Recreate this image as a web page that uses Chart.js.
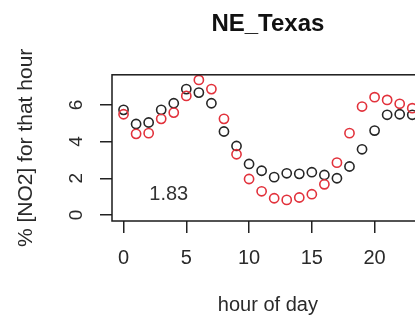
<!DOCTYPE html>
<html>
<head>
<meta charset="utf-8">
<script src="https://cdn.jsdelivr.net/npm/chart.js@4"></script>
<style>
  html, body { margin: 0; padding: 0; background: #fff; overflow: hidden; }
</style>
</head>
<body>
<canvas id="no2Chart" width="430" height="320"></canvas>
<script>
// hour of day, 0..23
const hours = [0, 1, 2, 3, 4, 5, 6, 7, 8, 9, 10, 11, 12, 13, 14, 15, 16, 17, 18, 19, 20, 21, 22, 23];
// black circles
const blackSeries = [5.73, 4.96, 5.04, 5.73, 6.09, 6.86, 6.67, 6.09, 4.55, 3.76, 2.78, 2.41,
                     2.06, 2.27, 2.24, 2.33, 2.18, 2.0, 2.64, 3.58, 4.6, 5.46, 5.49, 5.46];
// red circles
const redSeries = [5.49, 4.42, 4.46, 5.24, 5.58, 6.49, 7.36, 6.86, 5.24, 3.31, 1.96, 1.29,
                   0.91, 0.82, 0.95, 1.13, 1.67, 2.85, 4.46, 5.91, 6.42, 6.27, 6.06, 5.82];
const xTicks = [0, 5, 10, 15, 20];
const yTicks = [0, 2, 4, 6];
const noteText = '1.83';
const notePos = { hour: 3.6, value: 1.1 };

const FONT = "'Liberation Sans', Arial, sans-serif";

// box round the plot, like R draws it
const framePlugin = {
    id: 'frame',
    afterDraw(chart) {
        const { ctx, chartArea } = chart;
        ctx.save();
        ctx.strokeStyle = '#1a1a1a';
        ctx.lineWidth = 1.5;
        ctx.strokeRect(chartArea.left, chartArea.top, chartArea.right - chartArea.left, chartArea.bottom - chartArea.top);
        ctx.restore();
    }
};

// y tick labels turned parallel to the axis, plus the "1.83" note
const textPlugin = {
    id: 'extraText',
    afterDraw(chart) {
        const { ctx, chartArea } = chart;
        const yScale = chart.scales.y;
        const xScale = chart.scales.x;
        ctx.save();
        ctx.fillStyle = '#2a2a2a';
        ctx.font = '19px ' + FONT;
        ctx.textAlign = 'center';
        ctx.textBaseline = 'middle';
        yScale.ticks.forEach(t => {
            ctx.save();
            ctx.translate(chartArea.left - 35, yScale.getPixelForValue(t.value));
            ctx.rotate(-Math.PI / 2);
            ctx.fillText(String(t.value), 0, 0);
            ctx.restore();
        });
        ctx.font = '20px ' + FONT;
        ctx.fillStyle = '#333';
        ctx.fillText(noteText, xScale.getPixelForValue(notePos.hour), yScale.getPixelForValue(notePos.value));
        ctx.restore();
    }
};

const ctx = document.getElementById('no2Chart').getContext('2d');
new Chart(ctx, {
    type: 'scatter',
    data: {
        datasets: [
            {
                label: 'red',
                data: hours.map((h, i) => ({ x: h, y: redSeries[i] })),
                borderColor: '#e2323c',
                backgroundColor: 'rgba(0,0,0,0)',
                pointRadius: 4.6,
                borderWidth: 1.6
            },
            {
                label: 'black',
                data: hours.map((h, i) => ({ x: h, y: blackSeries[i] })),
                borderColor: '#262626',
                backgroundColor: 'rgba(0,0,0,0)',
                pointRadius: 4.6,
                borderWidth: 1.6
            }
        ]
    },
    options: {
        responsive: false,
        animation: false,
        layout: { padding: { left: 0, right: 6, top: 0, bottom: 0 } },
        plugins: {
            legend: { display: false },
            tooltip: { enabled: false },
            title: {
                display: true,
                text: 'NE_Texas',
                fullSize: false,
                color: '#111',
                font: { family: FONT, size: 24, weight: 'bold' },
                padding: { top: 10, bottom: 36 }
            }
        },
        scales: {
            x: {
                type: 'linear',
                min: -0.92,
                max: 23.92,
                afterBuildTicks(scale) { scale.ticks = xTicks.map(v => ({ value: v })); },
                afterFit(scale) { scale.height = 99; },
                border: { display: false },
                grid: { drawOnChartArea: false, drawTicks: true, tickLength: 12, color: '#222', lineWidth: 1.5 },
                ticks: { color: '#2a2a2a', padding: 13, maxRotation: 0, font: { family: FONT, size: 20 } },
                title: {
                    display: true,
                    text: 'hour of day',
                    color: '#2a2a2a',
                    font: { family: FONT, size: 20 },
                    padding: { top: 0, bottom: 3 }
                }
            },
            y: {
                min: -0.33,
                max: 7.64,
                afterBuildTicks(scale) { scale.ticks = yTicks.map(v => ({ value: v })); },
                afterFit(scale) { scale.width = 112; },
                border: { display: false },
                grid: { drawOnChartArea: false, drawTicks: true, tickLength: 12, color: '#222', lineWidth: 1.5 },
                ticks: { display: false },
                title: {
                    display: true,
                    text: '% [NO2] for that hour',
                    color: '#2a2a2a',
                    font: { family: FONT, size: 21 },
                    padding: { top: 14, bottom: 0 }
                }
            }
        }
    },
    plugins: [framePlugin, textPlugin]
});
</script>
</body>
</html>
